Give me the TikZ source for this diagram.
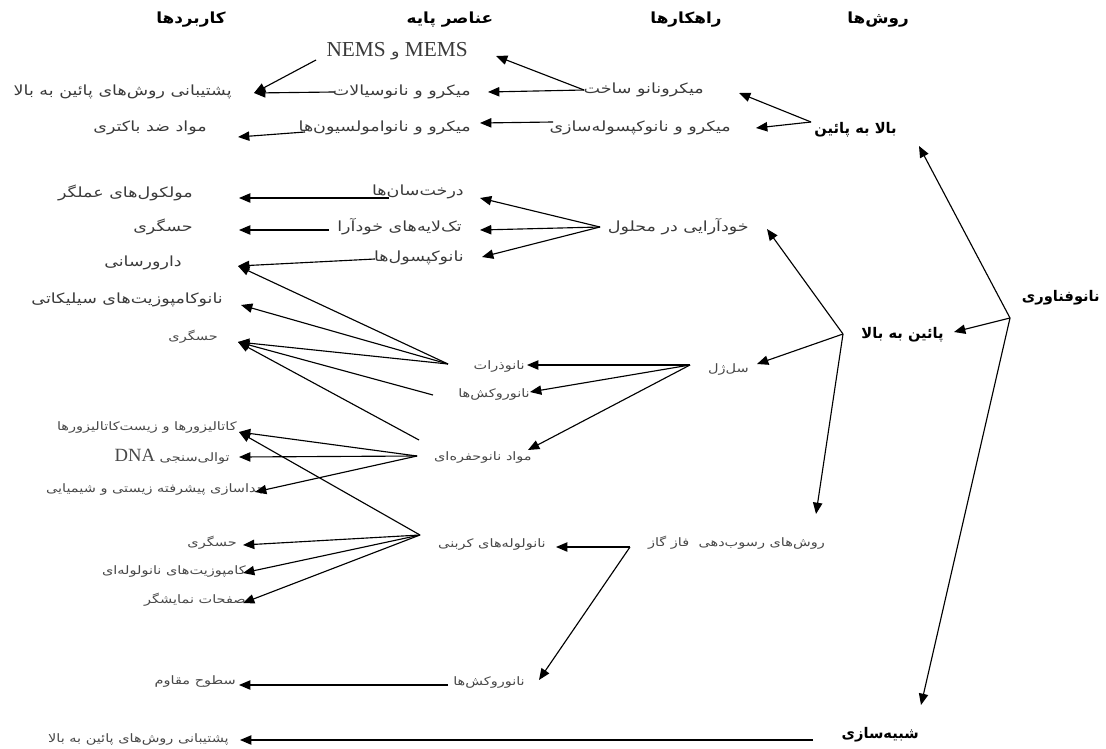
\documentclass[tikz,border=0pt]{standalone}
\usepackage{fontspec}
\setmainfont{Liberation Serif}
\newfontfamily\fa[Script=Arabic, FakeStretch=1.25]{DejaVu Sans}
\newfontfamily\fab[Script=Arabic]{DejaVu Sans}
\newfontfamily\fah[Script=Arabic, FakeStretch=1.1]{DejaVu Sans}
\newfontfamily\lat{Liberation Serif}
\TeXXeTstate=1
\usetikzlibrary{arrows.meta}
\definecolor{txtgray}{HTML}{3A3A3A}
\definecolor{smallgray}{HTML}{484848}
\newcommand\RT[1]{\beginR #1\endR}
\tikzset{
  hd/.style={inner sep=0pt, text=black, font=\fah\bfseries\fontsize{11.5}{13}\selectfont},
  txt/.style={inner sep=0pt, anchor=east, text=txtgray, font=\fa\fontsize{10.5}{12}\selectfont},
  sml/.style={inner sep=0pt, anchor=east, text=smallgray, font=\fa\fontsize{8.7}{10}\selectfont},
  bold/.style={inner sep=0pt, anchor=east, text=black, font=\fab\bfseries\fontsize{11}{13}\selectfont},
  arr/.style={line width=0.85pt, -{Triangle[length=8.5pt,width=7pt]}},
}
\begin{document}
\begin{tikzpicture}[x=0.75pt,y=-0.75pt]
\useasboundingbox (0,0) rectangle (1106,749);
% headers
\node[hd] (h1) at (878,20) {\RT{روش‌ها}};
\node[hd] (h2) at (686,20) {\RT{راهکارها}};
\node[hd] (h3) at (450,20) {\RT{عناصر پایه}};
\node[hd] (h4) at (191,20) {\RT{کاربردها}};
% methods
\node[bold] (root) at (1100,298) {\RT{نانوفناوری}};
\node[bold] (m1) at (897,130) {\RT{بالا به پائین}};
\node[bold] (m2) at (944,335) {\RT{پائین به بالا}};
\node[bold] (m3) at (919,735) {\RT{شبیه‌سازی}};
% strategies
\node[txt] (s1) at (704,90) {\RT{میکرونانو ساخت}};
\node[txt] (s2) at (731,128) {\RT{میکرو و نانوکپسوله‌سازی}};
\node[txt] (s3) at (749,227) {\RT{خودآرایی در محلول}};
\node[sml] (s4) at (749,370) {\RT{سل‌ژل}};
\node[sml] (s5) at (825,543) {\RT{روش‌های رسوب‌دهی~~فاز گاز}};
% elements
\node[txt, font=\lat\fontsize{16}{18}\selectfont] (e1) at (468,51) {\RT{\beginL MEMS\endL{} {\fa\fontsize{10.5}{12}\selectfont و} \beginL NEMS\endL{}}};
\node[txt] (e2) at (471,92) {\RT{میکرو و نانوسیالات}};
\node[txt] (e3) at (471,128) {\RT{میکرو و نانوامولسیون‌ها}};
\node[txt] (e4) at (464,192) {\RT{درخت‌سان‌ها}};
\node[txt] (e5) at (462,227) {\RT{تک‌لایه‌های خودآرا}};
\node[txt] (e6) at (464,258) {\RT{نانوکپسول‌ها}};
\node[sml] (e7) at (525,367) {\RT{نانوذرات}};
\node[sml] (e8) at (530,395) {\RT{نانوروکش‌ها}};
\node[sml] (e9) at (532,458) {\RT{مواد نانوحفره‌ای}};
\node[sml] (e10) at (546,545) {\RT{نانولوله‌های کربنی}};
\node[sml] (e11) at (525,683) {\RT{نانوروکش‌ها}};
% applications
\node[txt] (a1) at (232,92) {\RT{پشتیبانی روش‌های پائین به بالا}};
\node[txt] (a2) at (207,128) {\RT{مواد ضد باکتری}};
\node[txt] (a3) at (193,193) {\RT{مولکول‌های عملگر}};
\node[txt] (a4) at (193,227) {\RT{حسگری}};
\node[txt] (a5) at (182,263) {\RT{دارورسانی}};
\node[txt] (a6) at (223,300) {\RT{نانوکامپوزیت‌های سیلیکاتی}};
\node[sml] (a7) at (218,337) {\RT{حسگری}};
\node[sml] (a8) at (237,428) {\RT{کاتالیزورها و زیست‌کاتالیزورها}};
\node[sml] (a9) at (230,457) {\RT{توالی‌سنجی {\lat\fontsize{14}{16}\selectfont\beginL DNA\endL{}}}};
\node[sml] (a10) at (266,490) {\RT{جداسازی پیشرفته زیستی و شیمیایی}};
\node[sml] (a11) at (237,543) {\RT{حسگری}};
\node[sml] (a12) at (246,572) {\RT{کامپوزیت‌های نانولوله‌ای}};
\node[sml] (a13) at (246,600) {\RT{صفحات نمایشگر}};
\node[sml] (a14) at (236,682) {\RT{سطوح مقاوم}};
\node[sml] (a15) at (229,740) {\RT{پشتیبانی روش‌های پائین به بالا}};
% junctions
\coordinate (J0) at (1010,318);
\coordinate (Jm1) at (811,122);
\coordinate (Jm2) at (843,334);
\coordinate (Jm3) at (813,740);
\coordinate (Js1) at (584,90);
\coordinate (Js2) at (553,122);
\coordinate (Js3) at (600,227);
\coordinate (Js4) at (690,365);
\coordinate (Js5) at (630,547);
\coordinate (Je1) at (316,60);
\coordinate (Je2) at (334,92);
\coordinate (Je3) at (305,132);
\coordinate (Je4) at (389,198);
\coordinate (Je5) at (329,230);
\coordinate (Je6) at (375,259);
\coordinate (Je7) at (448,364);
\coordinate (Je8) at (433,395);
\coordinate (Je9a) at (419,440);
\coordinate (Je9) at (417,456);
\coordinate (Je10) at (420,535);
\coordinate (Je11) at (448,685);
% arrow tips
\coordinate (Tm1) at (919,146);
\coordinate (Tm2) at (954,332);
\coordinate (Tm3) at (921,705);
\coordinate (Ts1) at (739,93);
\coordinate (Ts2) at (756,128);
\coordinate (Ts3) at (767,229);
\coordinate (Ts4) at (757,364);
\coordinate (Ts5) at (816,514);
\coordinate (Te1) at (496,56);
\coordinate (Te2) at (488,92);
\coordinate (Te3) at (480,123);
\coordinate (Te4) at (480,198);
\coordinate (Te5) at (480,230);
\coordinate (Te6) at (482,257);
\coordinate (Te7) at (527,365);
\coordinate (Te8) at (530,392);
\coordinate (Te9) at (528,450);
\coordinate (Te10) at (556,547);
\coordinate (Te11) at (539,680);
\coordinate (Ta1) at (254,93);
\coordinate (Ta2) at (238,137);
\coordinate (Ta3) at (239,198);
\coordinate (Ta4) at (239,230);
\coordinate (Ta5) at (238,266);
\coordinate (Ta6) at (241,305);
\coordinate (Ta7) at (238,342);
\coordinate (Ta8) at (239,432);
\coordinate (Ta9) at (239,457);
\coordinate (Ta10) at (255,492);
\coordinate (Ta11) at (243,545);
\coordinate (Ta12) at (243,573);
\coordinate (Ta13) at (243,603);
\coordinate (Ta14) at (239,685);
\coordinate (Ta15) at (240,740);
% connectors
\draw[arr] (J0) -- (Tm1);
\draw[arr] (J0) -- (Tm2);
\draw[arr] (J0) -- (Tm3);
\draw[arr] (Jm1) -- (Ts1);
\draw[arr] (Jm1) -- (Ts2);
\draw[arr] (Jm2) -- (Ts3);
\draw[arr] (Jm2) -- (Ts4);
\draw[arr] (Jm2) -- (Ts5);
\draw[arr] (Js1) -- (Te1);
\draw[arr] (Js1) -- (Te2);
\draw[arr] (Js2) -- (Te3);
\draw[arr] (Js3) -- (Te4);
\draw[arr] (Js3) -- (Te5);
\draw[arr] (Js3) -- (Te6);
\draw[arr] (Js4) -- (Te7);
\draw[arr] (Js4) -- (Te8);
\draw[arr] (Js4) -- (Te9);
\draw[arr] (Js5) -- (Te10);
\draw[arr] (Js5) -- (Te11);
\draw[arr] (Je1) -- (Ta1);
\draw[arr] (Je2) -- (Ta1);
\draw[arr] (Je3) -- (Ta2);
\draw[arr] (Je4) -- (Ta3);
\draw[arr] (Je5) -- (Ta4);
\draw[arr] (Je6) -- (Ta5);
\draw[arr] (Je7) -- (Ta5);
\draw[arr] (Je7) -- (Ta6);
\draw[arr] (Je7) -- (Ta7);
\draw[arr] (Je8) -- (Ta7);
\draw[arr] (Je9a) -- (Ta7);
\draw[arr] (Je9) -- (Ta8);
\draw[arr] (Je9) -- (Ta9);
\draw[arr] (Je9) -- (Ta10);
\draw[arr] (Je10) -- (Ta8);
\draw[arr] (Je10) -- (Ta11);
\draw[arr] (Je10) -- (Ta12);
\draw[arr] (Je10) -- (Ta13);
\draw[arr] (Je11) -- (Ta14);
\draw[arr] (Jm3) -- (Ta15);
\end{tikzpicture}
\end{document}
